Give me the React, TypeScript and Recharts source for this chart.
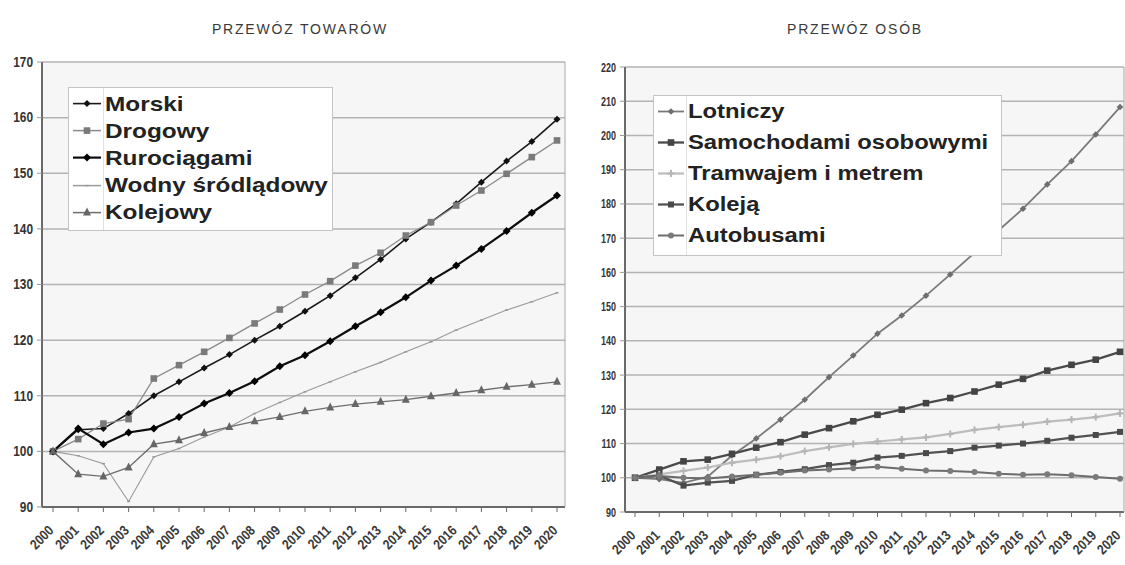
import { LineChart, Line, XAxis, YAxis, CartesianGrid, Legend } from 'recharts'

const SANS = "'Liberation Sans', Arial, sans-serif"

const years = [
  '2000', '2001', '2002', '2003', '2004', '2005', '2006', '2007', '2008', '2009', '2010',
  '2011', '2012', '2013', '2014', '2015', '2016', '2017', '2018', '2019', '2020',
]

// PRZEWÓZ TOWARÓW (2000 = 100)
const morski = [100, 103.9, 104.1, 106.8, 110, 112.5, 115, 117.4, 120, 122.5, 125.2, 128, 131.2, 134.5, 138.2, 141.2, 144.5, 148.4, 152.2, 155.7, 159.7]
const drogowy = [100, 102.2, 105, 105.8, 113.1, 115.5, 117.9, 120.4, 123, 125.5, 128.2, 130.6, 133.4, 135.7, 138.8, 141.2, 144.2, 146.9, 149.9, 152.9, 155.9]
const rurociagami = [100, 104.1, 101.3, 103.4, 104.1, 106.2, 108.6, 110.5, 112.6, 115.3, 117.3, 119.8, 122.5, 125, 127.7, 130.7, 133.4, 136.4, 139.6, 142.9, 146]
const wodny = [100, 99.2, 97.8, 91, 99, 100.5, 102.6, 104.4, 106.8, 108.8, 110.7, 112.5, 114.3, 116, 117.9, 119.7, 121.8, 123.6, 125.4, 126.9, 128.5]
const kolejowy = [100, 95.9, 95.5, 97.1, 101.3, 102, 103.3, 104.4, 105.4, 106.2, 107.2, 107.9, 108.5, 108.9, 109.3, 109.9, 110.5, 111, 111.6, 112, 112.5]
const goodsTicks = [90, 100, 110, 120, 130, 140, 150, 160, 170]

// PRZEWÓZ OSÓB (2000 = 100)
const lotniczy = [100, 99.6, 98.5, 100.3, 106.5, 111.5, 117, 122.8, 129.4, 135.7, 142.1, 147.4, 153.2, 159.4, 165.7, 172.3, 178.6, 185.7, 192.5, 200.3, 208.3]
const samochodami = [100, 102.4, 104.8, 105.3, 107, 108.8, 110.4, 112.6, 114.5, 116.5, 118.4, 119.9, 121.8, 123.3, 125.2, 127.2, 128.9, 131.3, 133, 134.5, 136.8]
const tramwajem = [100, 101, 102, 103, 104.4, 105.3, 106.3, 107.8, 108.9, 109.9, 110.6, 111.2, 111.8, 112.8, 114, 114.8, 115.5, 116.4, 117, 117.7, 118.8]
const koleja = [100, 100.6, 97.7, 98.6, 99.1, 100.9, 101.7, 102.5, 103.7, 104.4, 105.9, 106.4, 107.2, 107.8, 108.8, 109.4, 110, 110.8, 111.7, 112.5, 113.4]
const autobusami = [100, 100.5, 100, 99.8, 100.4, 100.9, 101.5, 102.1, 102.4, 102.8, 103.2, 102.6, 102.1, 102, 101.7, 101.2, 100.9, 101, 100.7, 100.2, 99.7]
const peopleTicks = [90, 100, 110, 120, 130, 140, 150, 160, 170, 180, 190, 200, 210, 220]

const goodsData = years.map((year, i) => ({
  year, morski: morski[i], drogowy: drogowy[i], rurociagami: rurociagami[i], wodny: wodny[i], kolejowy: kolejowy[i],
}))
const peopleData = years.map((year, i) => ({
  year, lotniczy: lotniczy[i], samochodami: samochodami[i], tramwajem: tramwajem[i], koleja: koleja[i], autobusami: autobusami[i],
}))

type Kind = 'diamond' | 'square' | 'circle' | 'triangle' | 'plus' | 'dash'
interface Series { key: string; name: string; stroke: string; width: number; marker: Kind; fill: string; size: number }

const goodsSeries: Series[] = [
  { key: 'morski', name: 'Morski', stroke: '#1a1a1a', width: 1.6, marker: 'diamond', fill: '#111', size: 3.5 },
  { key: 'drogowy', name: 'Drogowy', stroke: '#8a8a8a', width: 1.3, marker: 'square', fill: '#7a7a7a', size: 3.3 },
  { key: 'rurociagami', name: 'Rurociągami', stroke: '#0d0d0d', width: 2.2, marker: 'diamond', fill: '#000', size: 4 },
  { key: 'wodny', name: 'Wodny śródlądowy', stroke: '#9a9a9a', width: 1.1, marker: 'dash', fill: '#999', size: 1.5 },
  { key: 'kolejowy', name: 'Kolejowy', stroke: '#6e6e6e', width: 1.4, marker: 'triangle', fill: '#666', size: 4 },
]

const peopleSeries: Series[] = [
  { key: 'lotniczy', name: 'Lotniczy', stroke: '#7a7a7a', width: 1.8, marker: 'diamond', fill: '#6e6e6e', size: 3.3 },
  { key: 'samochodami', name: 'Samochodami osobowymi', stroke: '#4a4a4a', width: 2.3, marker: 'square', fill: '#444', size: 3.3 },
  { key: 'tramwajem', name: 'Tramwajem i metrem', stroke: '#bdbdbd', width: 2.2, marker: 'plus', fill: '#b5b5b5', size: 3.5 },
  { key: 'koleja', name: 'Koleją', stroke: '#525252', width: 2.3, marker: 'square', fill: '#4a4a4a', size: 3 },
  { key: 'autobusami', name: 'Autobusami', stroke: '#6c6c6c', width: 2, marker: 'circle', fill: '#7a7a7a', size: 3 },
]

function Marker({ cx, cy, s }: { cx: number; cy: number; s: Series }) {
  const r = s.size
  if (s.marker === 'square') return <rect x={cx - r} y={cy - r} width={r * 2} height={r * 2} fill={s.fill} />
  if (s.marker === 'circle') return <circle cx={cx} cy={cy} r={r} fill={s.fill} />
  if (s.marker === 'triangle')
    return <polygon points={`${cx},${cy - r - 1} ${cx + r},${cy + r - 1} ${cx - r},${cy + r - 1}`} fill={s.fill} />
  if (s.marker === 'plus')
    return (
      <g stroke={s.fill} strokeWidth={2}>
        <line x1={cx - r} y1={cy} x2={cx + r} y2={cy} />
        <line x1={cx} y1={cy - r} x2={cx} y2={cy + r} />
      </g>
    )
  if (s.marker === 'dash') return <line x1={cx - r} y1={cy} x2={cx + r} y2={cy} stroke={s.fill} strokeWidth={1.5} />
  return <polygon points={`${cx},${cy - r} ${cx + r},${cy} ${cx},${cy + r} ${cx - r},${cy}`} fill={s.fill} />
}

const makeDot = (s: Series) => (props: any) => {
  const { cx, cy, index } = props
  if (cx == null || cy == null) return <g key={`${s.key}-${index}`} />
  return (
    <g key={`${s.key}-${index}`}>
      <Marker cx={cx} cy={cy} s={s} />
    </g>
  )
}

// condensed, bold-ish year labels at -45°
const YearTick = (props: any) => {
  const { x, y, payload } = props
  return (
    <text
      transform={`translate(${x - 2},${y + 14}) rotate(-45) scale(0.85,1)`}
      textAnchor="end"
      dominantBaseline="central"
      fontSize={14}
      fontWeight="bold"
      fontFamily={SANS}
      fill="#3a3a3a"
    >
      {payload.value}
    </text>
  )
}

const makeValueTick = (size: number, sx: number) => (props: any) => {
  const { x, y, payload } = props
  return (
    <text
      transform={`translate(${x - 2},${y}) scale(${sx},1)`}
      textAnchor="end"
      dominantBaseline="central"
      fontSize={size}
      fontWeight="bold"
      fontFamily={SANS}
      fill="#333"
    >
      {payload.value}
    </text>
  )
}

function LegendBox({ items, width, rowH, fontSize, scale, iconW, padTop }: {
  items: Series[]; width: number; rowH: number; fontSize: number; scale: number; iconW: number; padTop: number
}) {
  return (
    <div style={{ position: 'relative', width, background: '#fff', border: '1px solid #c4c4c4', paddingTop: padTop, paddingBottom: 4, boxSizing: 'border-box' }}>
      <div style={{ position: 'absolute', left: iconW, top: 0, bottom: 0, borderLeft: '1px solid #e2e2e2' }} />
      {items.map(s => (
        <div key={s.key} style={{ display: 'flex', alignItems: 'center', height: rowH }}>
          <svg width={iconW} height={rowH} style={{ flex: 'none' }}>
            <line x1={4} y1={rowH / 2} x2={iconW - 2} y2={rowH / 2} stroke={s.stroke} strokeWidth={Math.max(s.width, 1.5)} />
            <Marker cx={iconW / 2 + 1} cy={rowH / 2} s={s} />
          </svg>
          <span style={{
            marginLeft: 2, fontSize, fontWeight: 'bold', fontFamily: SANS, color: '#222', whiteSpace: 'nowrap',
            display: 'inline-block', transform: `scaleX(${scale})`, transformOrigin: 'left center',
          }}>
            {s.name}
          </span>
        </div>
      ))}
    </div>
  )
}

const titleStyle = {
  position: 'absolute' as const, top: 21, fontFamily: SANS, fontSize: 14, letterSpacing: 1.8, color: '#3a3a3a', textAlign: 'center' as const,
}

export default function App() {
  return (
    <div style={{ position: 'absolute', left: 0, top: 0, width: 1125, height: 565, background: '#fff', overflow: 'hidden' }}>
      <div style={{ ...titleStyle, left: 100, width: 400 }}>PRZEWÓZ TOWARÓW</div>
      <div style={{ ...titleStyle, left: 655, width: 400 }}>PRZEWÓZ OSÓB</div>

      <div style={{ position: 'absolute', left: 0, top: 0 }}>
        <LineChart width={570} height={565} data={goodsData} margin={{ top: 62, right: 4, bottom: 0, left: 0 }}>
          <CartesianGrid vertical={false} stroke="#b3b3b3" strokeWidth={1.5} fill="#f6f6f6" />
          <XAxis
            dataKey="year"
            interval={0}
            padding={{ left: 11, right: 8 }}
            height={58}
            tick={<YearTick />}
            tickSize={5}
            axisLine={{ stroke: '#6a6a6a', strokeWidth: 2 }}
            tickLine={{ stroke: '#6a6a6a' }}
          />
          <YAxis
            domain={[90, 170]}
            ticks={goodsTicks}
            interval={0}
            width={42}
            tickSize={5}
            tick={makeValueTick(14, 0.85)}
            axisLine={{ stroke: '#6a6a6a', strokeWidth: 2 }}
            tickLine={{ stroke: '#999' }}
          />
          <YAxis yAxisId="frame" orientation="right" width={1} domain={[90, 170]} tick={false} tickLine={false} axisLine={{ stroke: '#a8a8a8' }} />
          <Legend
            layout="vertical"
            align="center"
            verticalAlign="middle"
            wrapperStyle={{ left: 68, top: 87, width: 265 }}
            content={() => <LegendBox items={goodsSeries} width={265} rowH={27.2} fontSize={21} scale={1.16} iconW={34} padTop={2} />}
          />
          {goodsSeries.map(s => (
            <Line
              key={s.key}
              type="linear"
              dataKey={s.key}
              name={s.name}
              stroke={s.stroke}
              strokeWidth={s.width}
              dot={makeDot(s)}
              activeDot={false}
              isAnimationActive={false}
            />
          ))}
        </LineChart>
      </div>

      <div style={{ position: 'absolute', left: 570, top: 0 }}>
        <LineChart width={555} height={565} data={peopleData} margin={{ top: 67, right: 0, bottom: 0, left: 0 }}>
          <CartesianGrid vertical={false} stroke="#b3b3b3" strokeWidth={1.5} fill="#f6f6f6" />
          <XAxis
            dataKey="year"
            interval={0}
            padding={{ left: 10, right: 4 }}
            height={53}
            tick={<YearTick />}
            tickSize={5}
            axisLine={{ stroke: '#6a6a6a', strokeWidth: 2 }}
            tickLine={{ stroke: '#6a6a6a' }}
          />
          <YAxis
            domain={[90, 220]}
            ticks={peopleTicks}
            interval={0}
            width={55}
            tickSize={5}
            tick={makeValueTick(12, 0.75)}
            axisLine={{ stroke: '#6a6a6a', strokeWidth: 2 }}
            tickLine={{ stroke: '#999' }}
          />
          <YAxis yAxisId="frame" orientation="right" width={1} domain={[90, 220]} tick={false} tickLine={false} axisLine={{ stroke: '#a8a8a8' }} />
          <Legend
            layout="vertical"
            align="center"
            verticalAlign="middle"
            wrapperStyle={{ left: 83, top: 95, width: 349 }}
            content={() => <LegendBox items={peopleSeries} width={349} rowH={31} fontSize={20} scale={1.19} iconW={32} padTop={0} />}
          />
          {peopleSeries.map(s => (
            <Line
              key={s.key}
              type="linear"
              dataKey={s.key}
              name={s.name}
              stroke={s.stroke}
              strokeWidth={s.width}
              dot={makeDot(s)}
              activeDot={false}
              isAnimationActive={false}
            />
          ))}
        </LineChart>
      </div>
    </div>
  )
}
